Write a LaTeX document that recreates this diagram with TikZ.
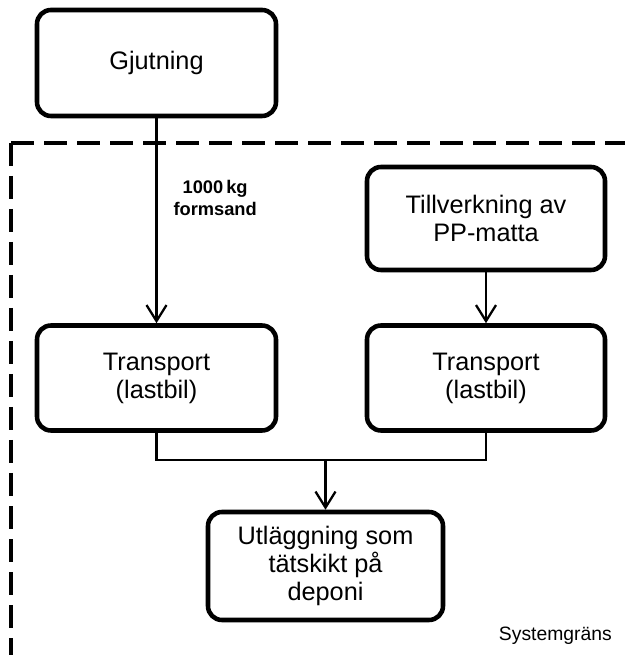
\documentclass[tikz,border=0pt]{standalone}
\usepackage{fontspec}
\setmainfont{Liberation Sans}
\usetikzlibrary{arrows.meta}
\begin{document}
\begin{tikzpicture}[x=1cm,y=1cm,
    box/.style={draw,line width=2.6pt,rounded corners=0.28cm,align=center,
      inner sep=0pt,font=\fontsize{14.4}{16}\selectfont},
    flow/.style={line width=1.3pt,-{Straight Barb[length=0.32cm,width=0.4cm,line width=1.3pt]}},
    bound/.style={line width=2pt,dash pattern=on 0.46cm off 0.2cm}]
  \useasboundingbox (0,0) rectangle (12.5,13.1);
  % system boundary
  \coordinate (corner) at (0.22,10.24);
  \draw[bound] (corner) -- (12.5,10.24);
  \draw[bound] (corner) -- (0.22,0);
  \node[anchor=east,font=\fontsize{11}{13}\selectfont] (sysgr) at (12.36,0.38) {Systemgräns};
  % boxes
  \node[box,minimum width=4.78cm,minimum height=2.12cm] (gjut) at (3.13,11.84) {Gjutning};
  \node[box,minimum width=4.78cm,minimum height=2.1cm] (trA) at (3.13,5.54) {Transport\\(lastbil)};
  \node[box,minimum width=4.76cm,minimum height=2.06cm] (till) at (9.72,8.73) {Tillverkning av\\PP-matta};
  \node[box,minimum width=4.76cm,minimum height=2.1cm] (trB) at (9.72,5.54) {Transport\\(lastbil)};
  \node[box,minimum width=4.7cm,minimum height=2.16cm] (utl) at (6.51,1.78) {Utläggning som\\tätskikt på\\deponi};
  % flows
  \draw[flow] (gjut) -- node[pos=0.39,right=0.2cm,align=center,
    font=\fontsize{10.4}{12.6}\selectfont\bfseries] (mass) {1000\,kg\\formsand} (trA);
  \draw[flow] (till) -- (trB);
  \coordinate (join) at (utl.north |- 0,3.9);
  \draw[line width=1.3pt] (trA.south) |- (join) -| (trB.south);
  \draw[flow] (join) -- (utl);
\end{tikzpicture}
\end{document}
